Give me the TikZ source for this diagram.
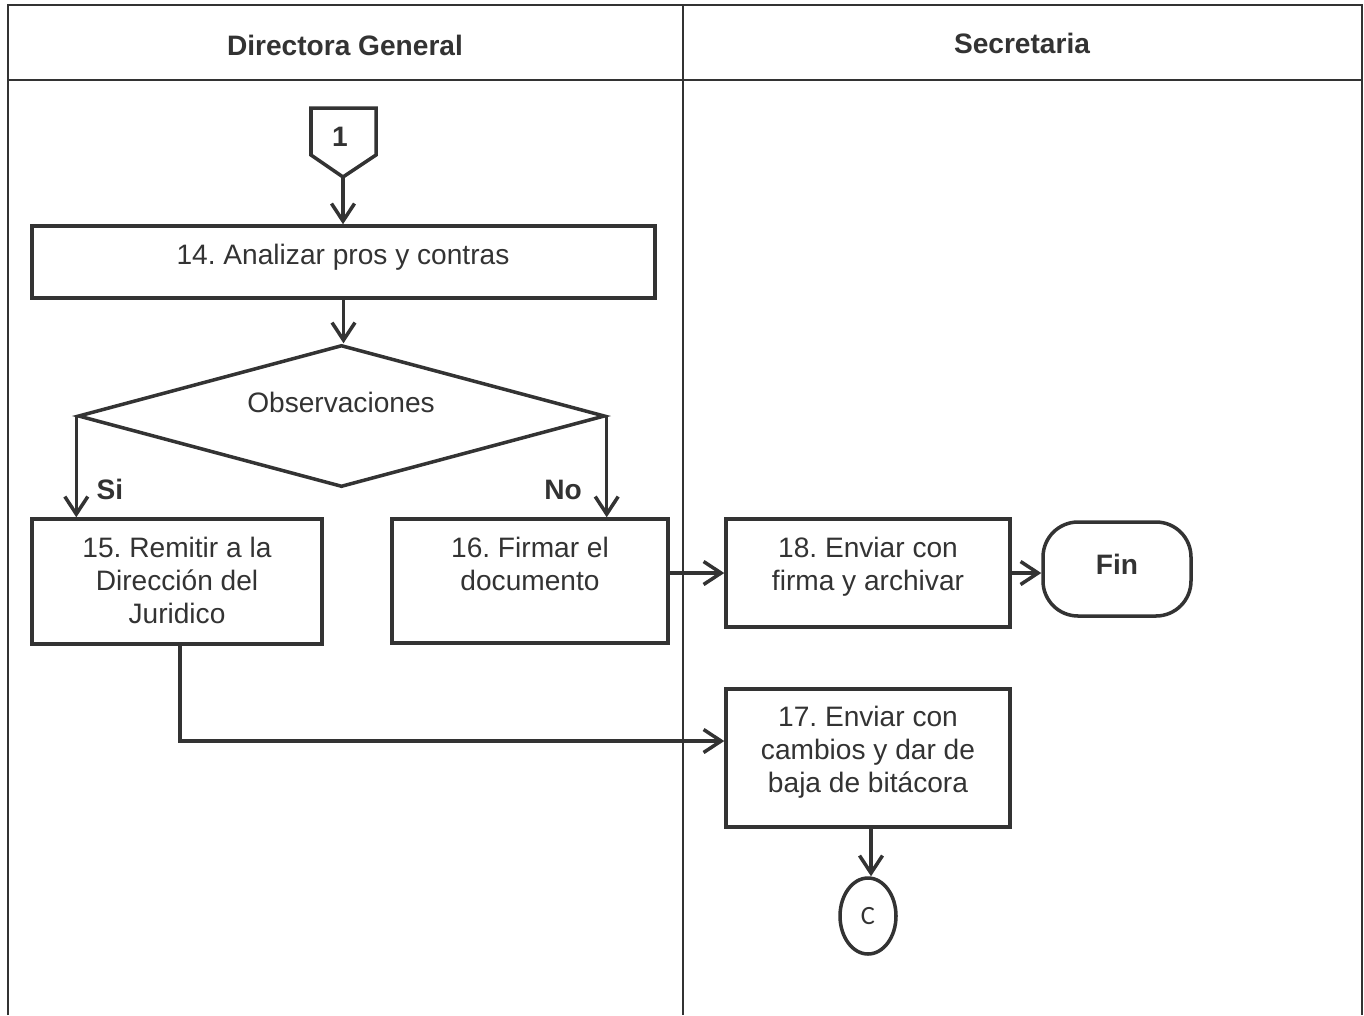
\documentclass[tikz,border=0pt]{standalone}
\usepackage{fontspec}
\setmainfont{Liberation Sans}
\newfontfamily\cfont{Carlito}
\usepackage{xcolor}
\usetikzlibrary{shapes,arrows,arrows.meta,positioning,calc}

\definecolor{ink}{HTML}{333333}
\frenchspacing

\tikzset{
  box/.style={draw=ink, line width=2pt, rectangle, inner sep=0pt},
  txt/.style={align=center, text=ink, inner sep=0pt, font=\fontsize{16}{18.7}\selectfont},
  head/.style={text=ink, inner sep=0pt, anchor=base, font=\fontsize{16}{18.7}\selectfont\bfseries},
  flow/.style={draw=ink, line width=2pt, -{Straight Barb[length=3.5mm,width=4.6mm]}},
  lane/.style={draw=ink, line width=1.2pt}
}

\begin{document}
\begin{tikzpicture}[x=0.02cm,y=-0.02cm]
\useasboundingbox (0,0) rectangle (1364,1015);

% Lanes
\draw[lane] (8,1015) -- (8,5) -- (1362,5) -- (1362,1015);
\draw[lane] (8,80) -- (1362,80);
\draw[lane] (683,5) -- (683,1015);
\node[head] (hdir) at (345,55) {Directora General};
\node[head] (hsec) at (1022,53) {Secretaria};

% Connector 1
\draw[draw=ink, line width=2pt] (311,108) -- (376,108) -- (376,155) -- (343,177) -- (311,155) -- cycle;
\coordinate (c1) at (343,177);
\node[head] (n1) at (340,146) {1};

% Directora General
\node[box, minimum width=12.46cm, minimum height=1.44cm] (b14) at (343.5,262) {};
\node[txt, anchor=base] (t14) at (343,264) {14. Analizar pros y contras};

\node[draw=ink, line width=2pt, diamond, inner sep=0pt,
      minimum width=10.54cm, minimum height=2.84cm] (dia) at (341.5,416) {};
\node[txt, anchor=base] (tdia) at (341,412) {Observaciones};

\node[box, minimum width=5.8cm, minimum height=2.5cm] (b15) at (177,581.5) {};
\node[txt, anchor=north] (t15) at (177,537) {15. Remitir a la\\Dirección del\\Juridico};

\node[box, minimum width=5.52cm, minimum height=2.48cm] (b16) at (530,581) {};
\node[txt, anchor=north] (t16) at (530,537) {16. Firmar el\\documento};

\node[head] (lsi) at (110,499) {Si};
\node[head] (lno) at (563,499) {No};

% Secretaria
\node[box, minimum width=5.68cm, minimum height=2.16cm] (b18) at (868,573) {};
\node[txt, anchor=north] (t18) at (868,537) {18. Enviar con\\firma y archivar};

\node[draw=ink, line width=2pt, rounded corners=0.7cm, minimum width=2.96cm, minimum height=1.88cm,
      text height=11.5pt, text depth=5pt,
      text=ink, font=\fontsize{16}{18.7}\selectfont\bfseries] (fin) at (1117,569) {Fin};

\node[box, minimum width=5.68cm, minimum height=2.76cm] (b17) at (868,758) {};
\node[txt, anchor=north] (t17) at (868,706) {17. Enviar con\\cambios y dar de\\baja de bitácora};

\node[draw=ink, line width=2pt, ellipse, inner sep=0pt, minimum width=1.12cm, minimum height=1.52cm,
      text=ink, font=\fontsize{15}{17}\selectfont\cfont] (cc) at (868,916) {C};

% Flow
\draw[flow] (c1) -- (c1 |- b14.north);
\draw[flow] (b14.south) -- (b14.south |- dia.north);
\draw[flow] (dia.west) -- (dia.west |- b15.north);
\draw[flow] (dia.east) -- (dia.east |- b16.north);
\draw[flow] (b16.east |- b18.west) -- (b18.west);
\draw[flow] (b18.east) -- (b18.east -| fin.west);
\draw[flow] ([xshift=0.06cm]b15.south) |- ([yshift=0.34cm]b17.west);
\draw[flow] ([xshift=0.06cm]b17.south) -- ([xshift=0.06cm]b17.south |- cc.north);
\end{tikzpicture}
\end{document}
